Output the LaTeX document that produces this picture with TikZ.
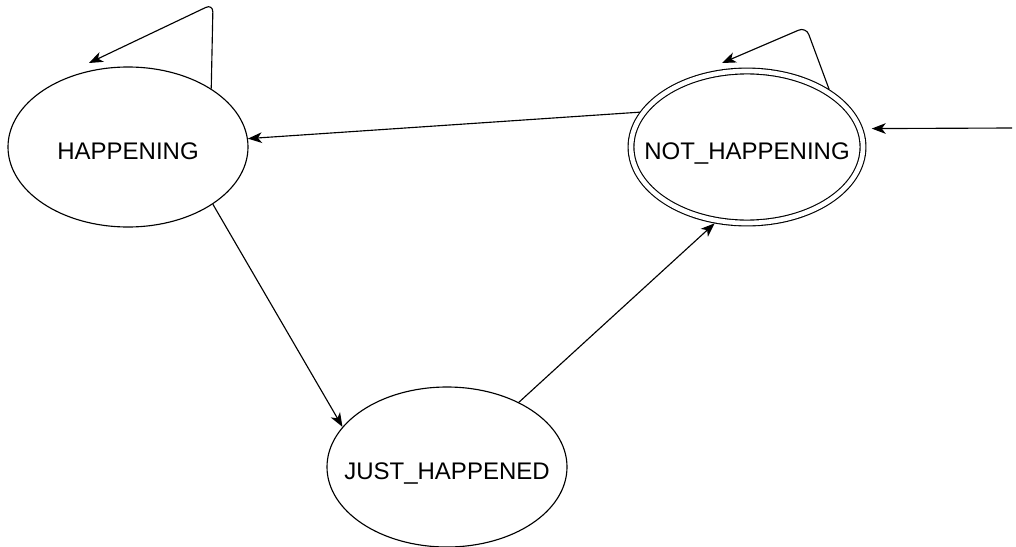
\documentclass[tikz,border=0pt]{standalone}
\usepackage{fontspec}
\setmainfont{Liberation Sans}
\usetikzlibrary{shapes.geometric,arrows.meta}
\begin{document}
\begin{tikzpicture}[x=0.75pt,y=-0.75pt]
    % Styles
    \tikzstyle{state} = [ellipse,draw,line width=0.85pt,minimum width=180pt,minimum height=120pt,inner xsep=-20pt,inner ysep=0pt,text height=19pt,text depth=0pt,font=\fontsize{18}{20}\selectfont]
    \tikzstyle{final state} = [state,double,double distance=3.5pt,minimum width=174pt,minimum height=114pt,outer sep=2.5pt]
    \tikzstyle{transition} = [line width=0.85pt,-{Stealth[length=10.5pt,width=8pt,inset=3pt]}]

    \useasboundingbox (0,0) rectangle (1016,546);

    %%% States
    \node[state] (happening) at (128,147) {HAPPENING};
    \node[final state] (not happening) at (747,147) {NOT\_HAPPENING};
    \node[state] (just happened) at (447,467) {JUST\_HAPPENED};
    %%%

    %%% Loop corners and the start point
    \coordinate (happening loop) at (213,4);
    \coordinate (happening loop end) at (89,63);
    \coordinate (not happening loop) at (806,27);
    \coordinate (not happening loop end) at (722,63);
    \coordinate (start) at (1012,128);
    %%%

    %%% Transitions
    \draw[transition,rounded corners=6pt] (happening.35) -- (happening loop) -- (happening loop end);
    \draw[transition,rounded corners=6pt] (not happening.35) -- (not happening loop) -- (not happening loop end);
    \draw[transition] (not happening.162) -- (happening.4);
    \draw[transition] (happening.-34) -- (just happened.159);
    \draw[transition] (just happened.42) -- (not happening.-113);
    \draw[transition,shorten >=6.5pt] (start) -- (not happening.9);
    %%%
\end{tikzpicture}
\end{document}
